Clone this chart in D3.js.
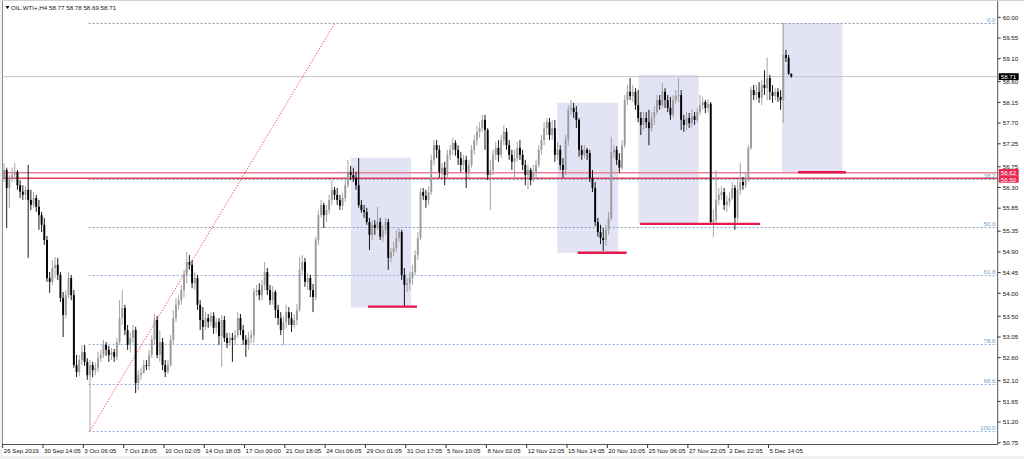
<!DOCTYPE html>
<html><head><meta charset="utf-8">
<script src="https://cdn.jsdelivr.net/npm/d3@7"></script>
<style>html,body{margin:0;padding:0;background:#fff;overflow:hidden}svg{display:block}text{font-family:"Liberation Sans",Arial,sans-serif}</style>
</head><body><svg id="c" width="1024" height="459"></svg>
<script>
const symbolTitle = "OIL.WTI+,H4";
const lastQuote = [58.77, 58.78, 58.69, 58.71];
// [open, high, low, close]
const candles = [
[56.51,56.83,56.42,56.68],[56.68,56.73,55.42,56.29],[56.29,56.57,55.86,56.51],[56.51,56.73,56.42,56.57],[56.57,56.83,56.46,56.64],
[56.64,56.68,56.25,56.35],[56.35,56.46,56.07,56.21],[56.21,56.35,56.03,56.14],[56.14,56.33,56.03,56.25],[56.25,56.79,54.77,56.03],
[56.03,56.25,55.81,55.92],[55.92,56.21,55.86,56.07],[56.07,56.14,55.77,55.88],[55.88,56.03,55.38,55.70],[55.70,55.77,55.33,55.49],
[55.49,55.64,55.05,55.16],[55.16,55.25,54.25,54.33],[54.33,54.46,54.01,54.25],[54.25,54.72,54.18,54.55],[54.55,54.79,54.33,54.62],
[54.62,54.77,54.29,54.40],[54.40,54.46,53.81,53.90],[53.90,54.03,53.05,53.53],[53.53,54.07,53.46,53.96],[53.96,54.46,53.90,54.33],
[54.33,54.40,53.85,53.96],[53.96,54.07,52.38,52.44],[52.44,52.66,52.18,52.29],[52.29,52.66,52.20,52.55],[52.55,52.88,52.44,52.72],
[52.72,52.88,52.42,52.51],[52.51,52.59,52.12,52.22],[52.22,52.55,51.01,52.44],[52.44,52.51,52.18,52.33],[52.33,52.49,52.22,52.38],
[52.38,52.72,52.29,52.59],[52.59,52.77,52.51,52.66],[52.66,52.99,52.59,52.88],[52.88,52.94,52.64,52.77],[52.77,52.86,52.51,52.66],
[52.66,52.81,52.55,52.72],[52.72,52.79,52.51,52.62],[52.62,53.03,52.55,52.94],[52.94,53.85,52.88,53.46],[53.46,54.07,53.31,53.68],
[53.68,53.75,53.09,53.20],[53.20,53.31,52.77,52.88],[52.88,53.16,52.72,53.03],[53.03,53.31,52.92,53.20],[53.20,53.27,51.83,52.05],
[52.05,52.33,51.90,52.22],[52.22,52.38,52.12,52.27],[52.27,52.55,52.25,52.44],[52.44,52.55,52.33,52.42],[52.42,52.77,52.33,52.66],
[52.66,53.09,52.59,52.99],[52.99,53.55,52.88,53.42],[53.42,53.51,52.59,52.66],[52.66,53.20,52.51,52.94],[52.94,53.03,52.33,52.44],
[52.44,52.55,52.18,52.29],[52.29,52.55,52.25,52.44],[52.44,53.09,52.40,52.99],[52.99,53.64,52.88,53.46],[53.46,53.90,53.38,53.75],
[53.75,53.96,53.64,53.85],[53.85,54.18,53.75,54.07],[54.07,54.51,53.92,54.40],[54.40,54.90,54.22,54.68],[54.68,54.83,54.51,54.62],
[54.62,54.72,54.11,54.22],[54.22,54.46,54.07,54.33],[54.33,54.40,53.64,53.75],[53.75,53.85,53.20,53.42],[53.42,53.70,52.99,53.27],
[53.27,53.59,53.20,53.46],[53.46,53.55,53.25,53.38],[53.38,53.59,53.29,53.51],[53.51,53.59,53.12,53.25],[53.25,53.46,53.14,53.38],
[53.38,53.46,52.88,53.07],[53.07,53.53,52.40,53.42],[53.42,53.51,52.94,53.03],[53.03,53.14,52.81,52.92],[52.92,53.14,52.86,53.03],
[53.03,53.14,52.51,52.99],[52.99,53.20,52.88,53.09],[53.09,53.59,53.03,53.46],[53.46,53.55,53.09,53.20],[53.20,53.31,52.88,52.99],
[52.99,53.09,52.62,52.88],[52.88,53.16,52.77,53.03],[53.03,53.20,52.92,53.09],[53.09,54.12,52.92,54.03],[54.03,54.18,53.94,54.07],
[54.07,54.22,53.85,53.96],[53.96,54.29,53.85,54.18],[54.18,54.68,54.07,54.46],[54.46,54.55,53.96,54.07],[54.07,54.18,53.75,53.85],
[53.85,54.16,53.75,54.03],[54.03,54.07,53.46,53.64],[53.64,53.75,53.31,53.46],[53.46,53.59,53.09,53.20],[53.20,53.51,52.88,53.38],
[53.38,53.75,53.25,53.59],[53.59,53.70,53.31,53.46],[53.46,53.59,53.16,53.31],[53.31,53.55,53.25,53.42],[53.42,53.77,53.31,53.64],
[53.64,54.79,53.60,54.51],[54.51,54.83,54.40,54.68],[54.68,54.77,54.14,54.25],[54.25,54.44,54.07,54.33],[54.33,54.40,53.92,54.07],
[54.07,54.20,53.59,53.92],[53.92,55.23,53.85,55.16],[55.16,55.81,55.05,55.70],[55.70,56.03,55.64,55.92],[55.92,55.97,55.42,55.70],
[55.70,55.92,55.55,55.81],[55.81,56.14,55.73,56.03],[56.03,56.46,55.92,56.25],[56.25,56.31,56.03,56.14],[56.14,56.29,55.92,56.03],
[56.03,56.14,55.81,55.90],[55.90,56.18,55.81,56.07],[56.07,56.46,55.99,56.35],[56.35,56.90,56.29,56.64],[56.64,56.77,56.46,56.57],
[56.57,56.73,56.42,56.51],[56.51,56.64,56.25,56.35],[56.35,56.94,55.86,55.92],[55.92,56.03,55.75,55.81],[55.81,55.92,55.64,55.77],
[55.77,55.86,55.49,55.55],[55.55,55.64,54.94,55.27],[55.27,55.59,55.16,55.49],[55.49,55.59,55.27,55.42],[55.42,55.88,55.38,55.55],
[55.55,55.64,55.16,55.23],[55.23,55.49,55.12,55.38],[55.38,55.64,55.27,55.55],[55.55,55.62,54.51,54.77],[54.77,54.98,54.68,54.90],
[54.90,55.12,54.81,54.98],[54.98,55.38,54.90,55.20],[55.20,55.42,55.12,55.33],[55.33,55.38,54.29,54.40],[54.40,54.55,53.70,54.18],
[54.18,54.33,54.03,54.22],[54.22,54.46,54.07,54.33],[54.33,54.62,54.18,54.46],[54.46,54.94,54.40,54.83],[54.83,55.33,54.72,55.20],
[55.20,56.29,55.16,56.20],[56.20,56.29,56.03,56.12],[56.12,56.25,55.86,56.03],[56.03,56.33,55.92,56.20],[56.20,57.01,56.14,56.90],
[56.90,57.33,56.79,57.22],[57.22,57.33,56.94,57.12],[57.12,57.22,56.51,56.64],[56.64,56.83,56.51,56.73],[56.73,56.86,56.35,56.57],
[56.57,57.12,56.51,57.01],[57.01,57.22,56.90,57.12],[57.12,57.38,57.01,57.27],[57.27,57.33,56.99,57.12],[57.12,57.22,56.79,56.94],
[56.94,57.07,56.64,56.79],[56.79,57.01,56.68,56.90],[56.90,56.99,56.29,56.64],[56.64,56.90,56.51,56.79],[56.79,57.22,56.73,57.12],
[57.12,57.44,57.01,57.33],[57.33,57.64,57.22,57.51],[57.51,57.72,57.38,57.59],[57.59,57.88,57.51,57.77],[57.77,57.88,57.12,57.55],
[57.55,57.59,56.46,56.57],[56.57,56.90,55.81,56.68],[56.68,57.12,56.57,57.01],[57.01,57.29,56.90,57.16],[57.16,57.33,56.86,57.01],
[57.01,57.44,56.94,57.33],[57.33,57.66,57.22,57.51],[57.51,57.59,57.12,57.22],[57.22,57.33,56.90,57.01],[57.01,57.12,56.68,56.86],
[56.86,57.12,56.46,56.94],[56.94,57.29,56.86,57.16],[57.16,57.33,56.90,57.01],[57.01,57.12,56.68,56.79],[56.79,56.90,56.35,56.57],
[56.57,56.79,56.25,56.68],[56.68,56.73,56.35,56.46],[56.46,56.79,56.42,56.64],[56.64,56.90,56.51,56.79],[56.79,57.22,56.73,57.12],
[57.12,57.44,57.01,57.33],[57.33,57.72,57.22,57.59],[57.59,57.81,57.44,57.72],[57.72,57.81,57.33,57.44],[57.44,57.77,57.33,57.59],
[57.59,57.77,56.86,57.01],[57.01,57.29,56.90,57.12],[57.12,57.22,56.68,56.79],[56.79,56.94,56.51,56.68],[56.68,57.44,56.57,57.33],
[57.33,58.09,57.22,57.99],[57.99,58.20,57.88,58.03],[58.03,58.14,57.81,57.94],[57.94,58.07,57.59,57.77],[57.77,57.81,56.97,57.12],
[57.12,57.22,56.90,57.01],[57.01,57.22,56.94,57.12],[57.12,57.16,56.90,57.05],[57.05,57.12,56.42,56.51],[56.51,56.68,56.20,56.29],
[56.29,56.42,55.46,55.55],[55.55,55.64,55.23,55.33],[55.33,55.49,55.07,55.20],[55.20,55.42,54.92,55.16],[55.16,55.49,55.03,55.38],
[55.38,55.77,55.27,55.64],[55.64,57.40,55.59,57.07],[57.07,57.22,56.94,57.12],[57.12,57.20,56.79,56.90],[56.90,57.05,56.62,56.73],
[56.73,57.33,56.68,57.22],[57.22,58.31,57.16,58.20],[58.20,58.53,58.09,58.38],[58.38,58.68,58.20,58.29],[58.29,58.53,58.16,58.38],
[58.38,58.46,57.99,58.09],[58.09,58.42,57.72,57.81],[57.81,57.94,57.44,57.66],[57.66,57.94,57.55,57.81],[57.81,57.94,57.59,57.72],
[57.72,57.99,57.22,57.59],[57.59,57.94,57.51,57.81],[57.81,58.07,57.66,57.94],[57.94,58.31,57.88,58.20],[58.20,58.31,57.99,58.09],
[58.09,58.57,58.03,58.38],[58.38,58.46,58.03,58.20],[58.20,58.31,57.94,58.03],[58.03,58.27,57.77,57.88],[57.88,58.31,57.81,58.20],
[58.20,58.42,58.12,58.29],[58.29,58.68,58.16,58.31],[58.31,58.42,57.55,57.77],[57.77,57.88,57.51,57.66],[57.66,57.94,57.55,57.81],
[57.81,57.92,57.59,57.70],[57.70,57.99,57.61,57.85],[57.85,57.94,57.66,57.77],[57.77,58.03,57.72,57.94],[57.94,58.31,57.88,58.09],
[58.09,58.27,57.99,58.16],[58.16,58.20,57.92,58.03],[58.03,58.22,57.94,58.12],[58.12,58.16,55.49,55.55],[55.55,55.81,55.23,55.59],
[55.59,56.68,55.51,56.03],[56.03,56.29,55.92,56.14],[56.14,56.33,56.03,56.20],[56.20,56.29,55.81,55.92],[55.92,56.12,55.77,55.99],
[55.99,56.20,55.90,56.07],[56.07,56.42,56.03,56.29],[56.29,56.35,55.38,55.64],[55.64,56.46,55.55,56.25],[56.25,56.83,56.14,56.42],
[56.42,56.53,56.25,56.35],[56.35,56.64,56.29,56.51],[56.51,57.22,56.42,57.16],[57.16,58.49,57.12,58.42],[58.42,58.53,58.20,58.31],
[58.31,58.53,58.20,58.38],[58.38,58.59,58.14,58.25],[58.25,58.64,58.09,58.53],[58.53,58.85,58.31,58.46],[58.46,59.12,58.20,58.68],
[58.68,58.75,58.20,58.38],[58.38,58.53,58.14,58.29],[58.29,58.46,58.20,58.38],[58.38,58.46,58.16,58.27],[58.27,58.42,57.99,58.20],
[58.20,59.88,57.70,59.18],[59.18,59.29,59.03,59.12],[59.12,59.18,58.75,58.77],[58.77,58.78,58.69,58.71]
];
const dateLabels = ["26 Sep 2019","30 Sep 14:05","3 Oct 06:05","7 Oct 18:05","10 Oct 02:05","14 Oct 18:05","17 Oct 00:00","21 Oct 18:05","24 Oct 06:05","29 Oct 01:05","31 Oct 17:05","5 Nov 10:05","8 Nov 02:05","12 Nov 22:05","15 Nov 14:05","20 Nov 10:05","25 Nov 06:05","27 Nov 22:05","2 Dec 22:05","5 Dec 14:05"];
const barsPerDateLabel = 15;
const priceTicks = [60.00,59.55,59.10,58.60,58.15,57.70,57.25,56.75,56.30,55.85,55.35,54.90,54.45,54.00,53.50,53.05,52.60,52.10,51.65,51.20,50.75];
const fibHigh = 59.88, fibLow = 51.01, fibStartBar = 31.5;
const fibLevels = [0.0, 38.2, 50.0, 61.8, 78.6, 88.6, 100.0];
const trendFrom = [32, 51.01], trendTo = [123.2, 59.88];
const levelLines = [56.62, 56.50];
const currentPrice = 58.71;
const zones = [[129.1,151.5,56.95,53.69],[205.9,228.6,58.14,54.88],[236.1,258.5,58.75,55.51],[289.5,312.0,59.87,56.64]];
const supports = [[135.5,153.7,53.71],[213.5,231.7,54.88],[236.7,281.4,55.51],[295.5,313.3,56.63]];

const W = 1024, H = 459, axisX = 997.7, frameBottom = 444.5;
const svg = d3.select("#c");
const x = d3.scaleLinear().domain([0, 369.8]).range([4, axisX]);
const y = d3.scaleLinear().domain([50.75, 60.00]).range([442.8, 17.3]);

svg.append("rect").attr("width", W).attr("height", H).attr("fill", "#f0f0f0");
svg.append("rect").attr("x", 2).attr("y", 0).attr("width", W - 2).attr("height", 456).attr("fill", "#fff");

const plot = svg.append("g");
plot.append("defs").append("clipPath").attr("id", "pc").append("rect").attr("x", 3).attr("y", 1).attr("width", axisX - 3).attr("height", frameBottom - 1);
const g = plot.append("g").attr("clip-path", "url(#pc)");

// zones
g.selectAll("rect.zone").data(zones).enter().append("rect").attr("class", "zone")
  .attr("x", d => x(d[0])).attr("width", d => x(d[1]) - x(d[0]))
  .attr("y", d => y(d[2])).attr("height", d => y(d[3]) - y(d[2]))
  .attr("fill", "#e3e3f6");

// fib levels
const fibPrice = r => fibHigh - r / 100 * (fibHigh - fibLow);
g.selectAll("line.fib").data(fibLevels).enter().append("line")
  .attr("x1", x(fibStartBar)).attr("x2", axisX)
  .attr("y1", d => Math.round(y(fibPrice(d))) + 0.5).attr("y2", d => Math.round(y(fibPrice(d))) + 0.5)
  .attr("stroke", (d, i) => i < 3 ? "#8a9bb5" : "#8fb0d6").attr("stroke-dasharray", "2,2").attr("stroke-width", 1);

// current price line
g.append("line").attr("x1", 3).attr("x2", axisX).attr("y1", y(currentPrice)).attr("y2", y(currentPrice))
  .attr("stroke", "#c4c4c4").attr("stroke-width", 1);

// level lines
g.selectAll("line.lvl").data(levelLines).enter().append("line")
  .attr("x1", 3).attr("x2", axisX).attr("y1", d => y(d)).attr("y2", d => y(d))
  .attr("stroke", (d, i) => i === 0 ? "#ef7f98" : "#e03a5c").attr("stroke-width", 1.4);

// trend line
g.append("line").attr("x1", x(trendFrom[0])).attr("y1", y(trendFrom[1]))
  .attr("x2", x(trendTo[0])).attr("y2", y(trendTo[1]))
  .attr("stroke", "#ff3b3b").attr("stroke-width", 1).attr("stroke-dasharray", "1.2,1.6");

// candles
const cg = g.append("g");
candles.forEach((d, i) => {
  const [o, h, l, c] = d;
  const up = c >= o;
  const col = up ? "#9b9b9b" : "#000";
  const cx = x(i);
  cg.append("line").attr("x1", cx).attr("x2", cx).attr("y1", y(h)).attr("y2", y(l))
    .attr("stroke", col).attr("stroke-width", 0.9);
  const top = y(Math.max(o, c)), bot = y(Math.min(o, c));
  cg.append("rect").attr("x", cx - 0.95).attr("width", 1.9)
    .attr("y", top).attr("height", Math.max(0.9, bot - top)).attr("fill", col);
});

// support lines (red)
g.selectAll("line.sup").data(supports).enter().append("line")
  .attr("x1", d => x(d[0])).attr("x2", d => x(d[1])).attr("y1", d => y(d[2])).attr("y2", d => y(d[2]))
  .attr("stroke", "#e5174b").attr("stroke-width", 2.4);

// fib labels
g.selectAll("text.fib").data(fibLevels).enter().append("text")
  .attr("x", 995.5).attr("y", d => Math.round(y(fibPrice(d))) - 1)
  .attr("text-anchor", "end").attr("font-size", 6.2).attr("fill", "#6f9fd3")
  .text(d => d.toFixed(1));

// frame
svg.append("line").attr("x1", 2.5).attr("x2", 2.5).attr("y1", 0).attr("y2", frameBottom).attr("stroke", "#8c8c8c");
svg.append("line").attr("x1", 2).attr("x2", axisX).attr("y1", frameBottom).attr("y2", frameBottom).attr("stroke", "#555");
svg.append("line").attr("x1", axisX).attr("x2", axisX).attr("y1", 0).attr("y2", frameBottom).attr("stroke", "#555");
svg.append("line").attr("x1", 2).attr("x2", W).attr("y1", 0.5).attr("y2", 0.5).attr("stroke", "#d0d0d0");

// price axis
const ya = svg.append("g");
priceTicks.forEach(p => {
  const py = y(p);
  ya.append("line").attr("x1", axisX).attr("x2", axisX + 3).attr("y1", py).attr("y2", py).attr("stroke", "#333");
  ya.append("text").attr("x", axisX + 5).attr("y", py + 2.2).attr("font-size", 6.2).attr("fill", "#111").text(p.toFixed(2));
});
// price boxes
function priceBox(p, bg, yy) {
  ya.append("rect").attr("x", axisX + 1).attr("y", yy - 3.4).attr("width", 20).attr("height", 6.8).attr("fill", bg);
  ya.append("text").attr("x", axisX + 3).attr("y", yy + 2.2).attr("font-size", 6.2).attr("fill", "#fff").text(p.toFixed(2));
}
priceBox(currentPrice, "#000", y(currentPrice));
priceBox(levelLines[0], "#e8264f", y(levelLines[0]) - 0.4);
priceBox(levelLines[1], "#e8264f", y(levelLines[1]) + 1);

// date axis
const xa = svg.append("g");
dateLabels.forEach((t, k) => {
  const tx = x(k * barsPerDateLabel) - 1.3;
  xa.append("line").attr("x1", tx).attr("x2", tx).attr("y1", frameBottom).attr("y2", frameBottom + 3.5).attr("stroke", "#333");
  xa.append("text").attr("x", tx + 1).attr("y", frameBottom + 8.8).attr("font-size", 6.2).attr("fill", "#111").text(t);
});

// title
svg.append("path").attr("d", "M5.5,6 L9.5,6 L7.5,9 Z").attr("fill", "#000");
svg.append("text").attr("x", 11).attr("y", 10).attr("font-size", 6.2).attr("fill", "#111")
  .text(symbolTitle + "  " + lastQuote.map(v => v.toFixed(2)).join(" "));
</script></body></html>
